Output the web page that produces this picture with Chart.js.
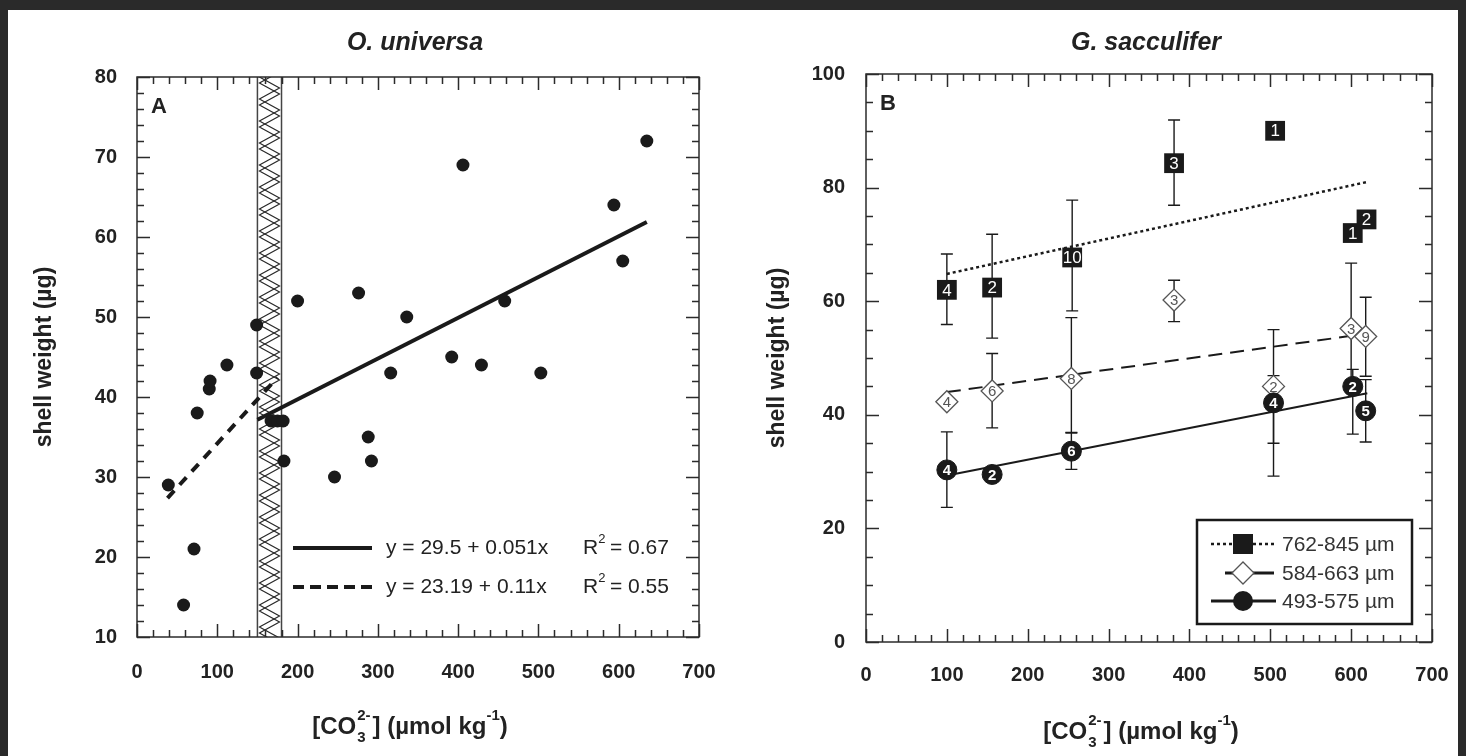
<!DOCTYPE html>
<html>
<head>
<meta charset="utf-8">
<title>Shell weight vs carbonate ion</title>
<script src="https://cdn.jsdelivr.net/npm/chart.js@4.4.1/dist/chart.umd.min.js"></script>
<style>
  html, body { margin: 0; padding: 0; background: #2a2a2a; }
  body { width: 1466px; height: 756px; position: relative; overflow: hidden; }
  #sheet { position: absolute; left: 8px; top: 10px; width: 1450px; height: 746px; background: #fff; }
  canvas { position: absolute; top: 0; }
  #chartA { left: 0; }
  #chartB { left: 733px; }
</style>
</head>
<body>
<div id="sheet"></div>
<canvas id="chartA" width="733" height="756"></canvas>
<canvas id="chartB" width="733" height="756"></canvas>
<script>
// ---- Panel A: O. universa, individual shells ----
const aX = [39, 58, 71, 75, 90, 91, 112, 149, 149, 167, 175, 182, 183, 200, 246, 276, 288, 292, 316, 336, 392, 406, 429, 458, 503, 594, 605, 635];
const aY = [29, 14, 21, 38, 41, 42, 44, 49, 43, 37, 37, 37, 32, 52, 30, 53, 35, 32, 43, 50, 45, 69, 44, 52, 43, 64, 57, 72];

// regression lines: [intercept, slope] and x extent
const aSolidCoef = [29.5, 0.051];
const aSolidRange = [150, 635];
const aDashCoef = [23.19, 0.11];
const aDashRange = [38, 175];
const aFitLabels = ['y = 29.5 + 0.051x', 'y = 23.19 + 0.11x'];
const aFitR2 = ['0.67', '0.55'];

// hatched carbonate band
const aBand = [150, 180];

const aXRange = [0, 700];
const aYRange = [10, 80];

// ---- Panel B: G. sacculifer, size-fraction means ----
const bSizes = ['762-845 µm', '584-663 µm', '493-575 µm'];

const sqX = [100, 156, 255, 381, 506, 602, 619];
const sqY = [62, 62.4, 67.7, 84.3, 90, 72, 74.4];
const sqHi = [68.3, 71.8, 77.8, 91.9, null, null, null];
const sqLo = [55.9, 53.5, 58.3, 76.9, null, null, null];
const sqN = ['4', '2', '10', '3', '1', '1', '2'];

const dmX = [100, 156, 254, 381, 504, 600, 618];
const dmY = [42.3, 44.2, 46.4, 60.2, 45, 55.2, 53.8];
const dmHi = [null, 50.8, 57.1, 63.7, 55, 66.7, 60.7];
const dmLo = [null, 37.7, 36.9, 56.4, 35, 44, 46.8];
const dmN = ['4', '6', '8', '3', '2', '3', '9'];

const ciX = [100, 156, 254, 504, 602, 618];
const ciY = [30.3, 29.5, 33.6, 42.1, 45, 40.7];
const ciHi = [37, null, 36.8, 46.9, 48, 46.2];
const ciLo = [23.7, null, 30.4, 29.2, 36.6, 35.2];
const ciN = ['4', '2', '6', '4', '2', '5'];

// trend line end points per size fraction
const trendX = [[100, 620], [100, 600], [100, 620]];
const trendY = [[64.8, 81.0], [44.0, 53.9], [29.3, 43.8]];

const bXRange = [0, 700];
const bYRange = [0, 100];

const INK = '#1a1a1a';
const FONT = '"Liberation Sans", Arial, Helvetica, sans-serif';

const pts = (xs, ys) => xs.map((x, i) => ({ x, y: ys[i] }));
const fitPts = (coef, range) => range.map(x => ({ x, y: coef[0] + coef[1] * x }));

// boxed frame with inward ticks on all four sides
function frameTicks(xMinor, xMajor, yMinor, yMajor) {
  return {
    id: 'frameTicks',
    afterDatasetsDraw(chart) {
      const { ctx, chartArea: a, scales: { x, y } } = chart;
      const isMajor = (v, m) => Math.abs(v / m - Math.round(v / m)) < 1e-6;
      ctx.save();
      ctx.strokeStyle = '#2b2b2b';
      ctx.lineWidth = 1.5;
      ctx.strokeRect(a.left, a.top, a.right - a.left, a.bottom - a.top);
      ctx.beginPath();
      for (let v = x.min; v <= x.max + 1e-9; v += xMinor) {
        const px = Math.round(x.getPixelForValue(v)) + 0.5;
        const len = isMajor(v, xMajor) ? 13 : 7;
        ctx.moveTo(px, a.bottom); ctx.lineTo(px, a.bottom - len);
        ctx.moveTo(px, a.top); ctx.lineTo(px, a.top + len);
      }
      for (let v = y.min; v <= y.max + 1e-9; v += yMinor) {
        const py = Math.round(y.getPixelForValue(v)) + 0.5;
        const len = isMajor(v, yMajor) ? 13 : 7;
        ctx.moveTo(a.left, py); ctx.lineTo(a.left + len, py);
        ctx.moveTo(a.right, py); ctx.lineTo(a.right - len, py);
      }
      ctx.stroke();
      ctx.restore();
    }
  };
}

// titles shared by both panels
function drawTitles(chart, title, letter) {
  const { ctx, chartArea: a } = chart;
  const cx = (a.left + a.right) / 2;
  ctx.save();
  ctx.fillStyle = '#222';
  ctx.textAlign = 'center';
  ctx.textBaseline = 'alphabetic';
  ctx.font = 'italic bold 25px ' + FONT;
  ctx.fillText(title, cx - 3, 50);

  ctx.textAlign = 'left';
  ctx.font = 'bold 22px ' + FONT;
  ctx.fillText(letter, a.left + 14, a.top + 36);

  // y axis title
  ctx.save();
  ctx.translate(45, (a.top + a.bottom) / 2);
  ctx.rotate(-Math.PI / 2);
  ctx.textAlign = 'center';
  ctx.textBaseline = 'middle';
  ctx.font = 'bold 23px ' + FONT;
  ctx.fillText('shell weight (µg)', 0, 0);
  ctx.restore();

  // x axis title with sub/superscripts
  const big = 'bold 24px ' + FONT;
  const small = 'bold 15px ' + FONT;
  const parts = [
    { t: '[CO', f: big, dy: 0 },
    { sup: '2-', sub: '3' },
    { t: '] (µmol kg', f: big, dy: 0 },
    { t: '-1', f: small, dy: -14 },
    { t: ')', f: big, dy: 0 }
  ];
  let total = 0;
  parts.forEach(p => {
    if (p.t !== undefined) { ctx.font = p.f; p.w = ctx.measureText(p.t).width; }
    else { ctx.font = small; p.w = Math.max(ctx.measureText(p.sup).width, ctx.measureText(p.sub).width) + 3; }
    total += p.w;
  });
  let xx = cx - 8 - total / 2;
  const base = a.bottom + 97;
  ctx.textAlign = 'left';
  parts.forEach(p => {
    if (p.t !== undefined) {
      ctx.font = p.f;
      ctx.fillText(p.t, xx, base + p.dy);
    } else {
      ctx.font = small;
      ctx.fillText(p.sup, xx + 1, base - 14);
      ctx.fillText(p.sub, xx + 1, base + 8);
    }
    xx += p.w;
  });
  ctx.restore();
}

// ---- Panel A plugins ----
const bandPlugin = {
  id: 'band',
  beforeDatasetsDraw(chart) {
    const { ctx, chartArea: a, scales: { x } } = chart;
    const x0 = x.getPixelForValue(aBand[0]);
    const x1 = x.getPixelForValue(aBand[1]);
    ctx.save();
    ctx.beginPath();
    ctx.rect(x0, a.top, x1 - x0, a.bottom - a.top);
    ctx.clip();
    ctx.strokeStyle = '#2a2a2a';
    ctx.lineWidth = 1.2;
    const step = 11;
    [0, 6].forEach(phase => {
      ctx.beginPath();
      let left = true;
      let first = true;
      for (let py = a.top - 22 + phase; py <= a.bottom + 22; py += step) {
        const px = left ? x0 + 2 : x1 - 2;
        if (first) { ctx.moveTo(px, py); first = false; } else ctx.lineTo(px, py);
        left = !left;
      }
      ctx.stroke();
    });
    ctx.restore();
    ctx.save();
    ctx.strokeStyle = '#444';
    ctx.lineWidth = 1.5;
    ctx.beginPath();
    ctx.moveTo(x0, a.top); ctx.lineTo(x0, a.bottom);
    ctx.moveTo(x1, a.top); ctx.lineTo(x1, a.bottom);
    ctx.stroke();
    ctx.restore();
  }
};

const textA = {
  id: 'textA',
  afterDraw(chart) {
    const { ctx } = chart;
    drawTitles(chart, 'O. universa', 'A');
    ctx.save();
    ctx.strokeStyle = INK;
    ctx.lineWidth = 4;
    const rows = [548, 587];
    rows.forEach((ry, i) => {
      ctx.setLineDash(i === 0 ? [] : [11, 6]);
      ctx.beginPath();
      ctx.moveTo(293, ry); ctx.lineTo(372, ry);
      ctx.stroke();
    });
    ctx.setLineDash([]);
    ctx.fillStyle = '#222';
    ctx.textBaseline = 'middle';
    rows.forEach((ry, i) => {
      ctx.font = '21px ' + FONT;
      ctx.fillText(aFitLabels[i], 386, ry);
      ctx.fillText('R', 583, ry);
      const rw = ctx.measureText('R').width;
      ctx.font = '13px ' + FONT;
      ctx.fillText('2', 583 + rw, ry - 9);
      ctx.font = '21px ' + FONT;
      ctx.fillText(' = ' + aFitR2[i], 583 + rw + 6, ry);
    });
    ctx.restore();
  }
};

function axisOpts(range, step, padTicks, fitSize, isX) {
  return {
    type: 'linear',
    min: range[0],
    max: range[1],
    grid: { display: false, drawTicks: false },
    border: { display: false },
    ticks: {
      stepSize: step,
      color: '#222',
      padding: padTicks,
      font: { family: FONT, weight: 'bold', size: 20 }
    },
    afterFit(scale) {
      if (isX) {
        scale.height = fitSize;
        // keep the last tick label from pulling the plot edge inward
        scale.paddingLeft = 0;
        scale.paddingRight = 0;
      } else {
        scale.width = fitSize;
      }
    }
  };
}

new Chart(document.getElementById('chartA'), {
  type: 'scatter',
  data: {
    datasets: [
      { data: pts(aX, aY), pointRadius: 6.5, pointBackgroundColor: INK, pointBorderWidth: 0, order: 0 },
      { data: fitPts(aSolidCoef, aSolidRange), showLine: true, borderColor: INK, borderWidth: 4, pointRadius: 0, order: 1 },
      { data: fitPts(aDashCoef, aDashRange), showLine: true, borderColor: INK, borderWidth: 4, borderDash: [10, 8], pointRadius: 0, order: 1 }
    ]
  },
  options: {
    responsive: false,
    animation: false,
    events: [],
    layout: { padding: { left: 30, top: 77, right: 34, bottom: 0 } },
    plugins: { legend: { display: false }, tooltip: { enabled: false } },
    scales: {
      x: axisOpts(aXRange, 100, 23, 119, true),
      y: axisOpts(aYRange, 10, 20, 107, false)
    }
  },
  plugins: [bandPlugin, frameTicks(20, 100, 2, 10), textA]
});

// ---- Panel B plugins ----
const errorBars = {
  id: 'errorBars',
  beforeDatasetsDraw(chart) {
    const { ctx, scales: { x, y } } = chart;
    ctx.save();
    ctx.strokeStyle = INK;
    ctx.lineWidth = 1.4;
    [[sqX, sqHi, sqLo], [dmX, dmHi, dmLo], [ciX, ciHi, ciLo]].forEach(([xs, hi, lo]) => {
      xs.forEach((xv, i) => {
        if (hi[i] == null) return;
        const px = x.getPixelForValue(xv);
        const top = y.getPixelForValue(hi[i]);
        const bot = y.getPixelForValue(lo[i]);
        ctx.beginPath();
        ctx.moveTo(px, top); ctx.lineTo(px, bot);
        ctx.moveTo(px - 6, top); ctx.lineTo(px + 6, top);
        ctx.moveTo(px - 6, bot); ctx.lineTo(px + 6, bot);
        ctx.stroke();
      });
    });
    ctx.restore();
  }
};

const markerLabels = {
  id: 'markerLabels',
  afterDatasetsDraw(chart) {
    const { ctx } = chart;
    const sets = [[3, sqN, '#fff', '17px '], [4, dmN, '#555', '15px '], [5, ciN, '#fff', 'bold 15px ']];
    ctx.save();
    ctx.textAlign = 'center';
    ctx.textBaseline = 'middle';
    sets.forEach(([idx, labels, color, font]) => {
      const meta = chart.getDatasetMeta(idx);
      ctx.fillStyle = color;
      ctx.font = font + FONT;
      meta.data.forEach((el, j) => ctx.fillText(labels[j], el.x, el.y + 1));
    });
    ctx.restore();
  }
};

const textB = {
  id: 'textB',
  afterDraw(chart) {
    const { ctx } = chart;
    drawTitles(chart, 'G. sacculifer', 'B');
    ctx.save();
    // legend box
    ctx.strokeStyle = INK;
    ctx.lineWidth = 2.5;
    ctx.strokeRect(464, 520, 215, 104);
    const rows = [544, 573, 601];
    const sx = 510;
    // dotted + square
    ctx.lineWidth = 2.5;
    ctx.setLineDash([3, 3]);
    ctx.beginPath(); ctx.moveTo(478, rows[0]); ctx.lineTo(541, rows[0]); ctx.stroke();
    ctx.setLineDash([]);
    ctx.fillStyle = INK;
    ctx.fillRect(sx - 10, rows[0] - 10, 20, 20);
    // dashed + diamond
    ctx.lineWidth = 3;
    ctx.beginPath();
    ctx.moveTo(492, rows[1]); ctx.lineTo(500, rows[1]);
    ctx.moveTo(520, rows[1]); ctx.lineTo(541, rows[1]);
    ctx.stroke();
    ctx.fillStyle = '#fff';
    ctx.strokeStyle = '#555';
    ctx.lineWidth = 1.3;
    ctx.beginPath();
    ctx.moveTo(sx - 11, rows[1]); ctx.lineTo(sx, rows[1] - 11);
    ctx.lineTo(sx + 11, rows[1]); ctx.lineTo(sx, rows[1] + 11);
    ctx.closePath(); ctx.fill(); ctx.stroke();
    // solid + circle
    ctx.strokeStyle = INK;
    ctx.lineWidth = 3;
    ctx.beginPath(); ctx.moveTo(478, rows[2]); ctx.lineTo(543, rows[2]); ctx.stroke();
    ctx.fillStyle = INK;
    ctx.beginPath(); ctx.arc(sx, rows[2], 10, 0, Math.PI * 2); ctx.fill();
    // labels
    ctx.fillStyle = '#333';
    ctx.font = '21px ' + FONT;
    ctx.textBaseline = 'middle';
    rows.forEach((ry, i) => ctx.fillText(bSizes[i], 549, ry + 1));
    ctx.restore();
  }
};

const trendStyles = [[3, 3], [14, 8], []];
const trendWidths = [2.5, 2, 2];

new Chart(document.getElementById('chartB'), {
  type: 'scatter',
  data: {
    datasets: [
      ...trendX.map((xs, i) => ({
        data: pts(xs, trendY[i]), showLine: true, borderColor: INK, borderWidth: trendWidths[i],
        borderDash: trendStyles[i], pointRadius: 0, order: 3
      })),
      { data: pts(sqX, sqY), pointStyle: 'rect', pointRadius: 14, pointBackgroundColor: INK, pointBorderColor: INK, pointBorderWidth: 0, order: 2 },
      { data: pts(dmX, dmY), pointStyle: 'rectRot', pointRadius: 11, pointBackgroundColor: '#fff', pointBorderColor: '#555', pointBorderWidth: 1.3, order: 1 },
      { data: pts(ciX, ciY), pointStyle: 'circle', pointRadius: 10, pointBackgroundColor: INK, pointBorderColor: INK, pointBorderWidth: 1, order: 0 }
    ]
  },
  options: {
    responsive: false,
    animation: false,
    events: [],
    layout: { padding: { left: 30, top: 74, right: 34, bottom: 0 } },
    plugins: { legend: { display: false }, tooltip: { enabled: false } },
    scales: {
      x: axisOpts(bXRange, 100, 21, 114, true),
      y: axisOpts(bYRange, 20, 21, 103, false)
    }
  },
  plugins: [errorBars, frameTicks(20, 100, 5, 20), markerLabels, textB]
});
</script>
</body>
</html>
